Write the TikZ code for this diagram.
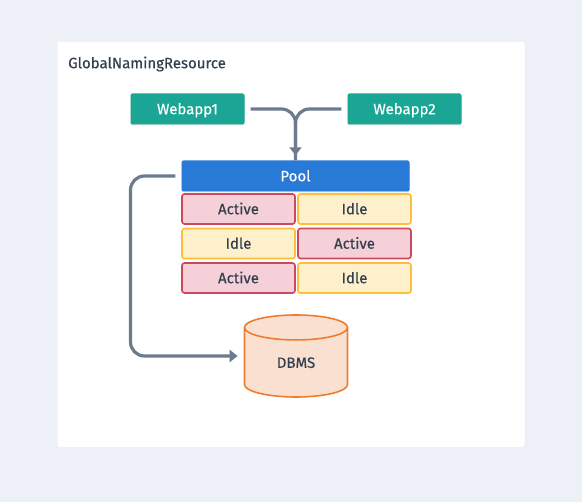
\documentclass[tikz,border=0pt]{standalone}
\usepackage{fontspec}
\setmainfont[FakeBold=0.35]{Fira Sans}
\usetikzlibrary{arrows.meta,shapes.geometric,shadows}
\definecolor{pagebg}{HTML}{EDF1F7}
\definecolor{inktext}{HTML}{323F4E}
\definecolor{flowline}{HTML}{6C7C8D}
\definecolor{tealbox}{HTML}{1AA594}
\definecolor{bluebox}{HTML}{2979D6}
\definecolor{activefill}{HTML}{F5D0D8}
\definecolor{activeline}{HTML}{CC4860}
\definecolor{idlefill}{HTML}{FFF0CC}
\definecolor{idleline}{HTML}{FBBF3A}
\definecolor{dbfill}{HTML}{F9E0D0}
\definecolor{dbline}{HTML}{ED7D31}
\tikzset{
	labeltext/.style={font=\fontsize{15}{17}\selectfont, text height=10.5pt, text depth=0pt},
	softshadow/.style={drop shadow={shadow xshift=0pt, shadow yshift=-1pt, opacity=0.12, fill=black}},
	appbox/.style={rectangle, rounded corners=2pt, fill=tealbox, text=white, minimum width=114pt, minimum height=31pt, inner sep=0pt, labeltext, softshadow},
	poolbox/.style={rectangle, rounded corners=2pt, fill=bluebox, text=white, minimum width=228pt, minimum height=31pt, inner sep=0pt, labeltext, softshadow},
	cellbox/.style={rectangle, rounded corners=2.5pt, line width=1.6pt, text=inktext, minimum width=113pt, minimum height=30pt, inner sep=0pt, labeltext},
	activebox/.style={cellbox, draw=activeline, fill=activefill},
	idlebox/.style={cellbox, draw=idleline, fill=idlefill},
	dbbox/.style={cylinder, shape border rotate=90, aspect=0.65, draw=dbline, fill=dbfill, line width=1.6pt, text=inktext, minimum width=103pt, minimum height=82pt, inner sep=0pt, labeltext},
	flow/.style={draw=flowline, line width=3.2pt, rounded corners=14pt, -{Triangle[length=8pt,width=12pt]}},
	plainflow/.style={draw=flowline, line width=3.2pt, rounded corners=14pt},
}
\begin{document}
\begin{tikzpicture}[x=1pt, y=-1pt]
	% Hintergrund
	\fill[pagebg] (0, 0) rectangle (582, 502);
	\useasboundingbox (0, 0) rectangle (582, 502);
	\fill[white, rounded corners=2pt] (57.5, 42) rectangle (524.5, 447);
	\node[anchor=west, inner sep=0pt, text=inktext, labeltext] (title) at (68, 63) {GlobalNamingResource};

	% Anwendungen
	\node[appbox] (webappA) at (187.5, 109) {Webapp1};
	\node[appbox] (webappB) at (404.5, 109) {Webapp2};
	\node[poolbox] (pool) at (295.5, 176) {Pool};

	% Verbindungen im Pool
	\foreach \y/\typeA/\textA/\typeB/\textB in {209/activebox/Active/idlebox/Idle, 243.5/idlebox/Idle/activebox/Active, 278/activebox/Active/idlebox/Idle}{
		\node[\typeA] (left\y) at (238.5, \y) {\textA};
		\node[\typeB] (right\y) at (354.5, \y) {\textB};
	}

	% Datenbank
	\node[dbbox, anchor=shape center] (dbms) at (296, 356) {DBMS};

	% Pfeile
	\coordinate (bendtop) at (130.5, 176);
	\coordinate (dbmsin) at (dbms.west |- dbms.shape center);
	\draw[plainflow, shorten <=6pt] (webappA.east) -| (pool.north);
	\draw[flow, shorten <=6pt, shorten >=5pt] (webappB.west) -| (pool.north);
	\draw[flow, shorten <=6pt, shorten >=6pt] (pool.west) -- (bendtop) |- (dbmsin);
\end{tikzpicture}
\end{document}
